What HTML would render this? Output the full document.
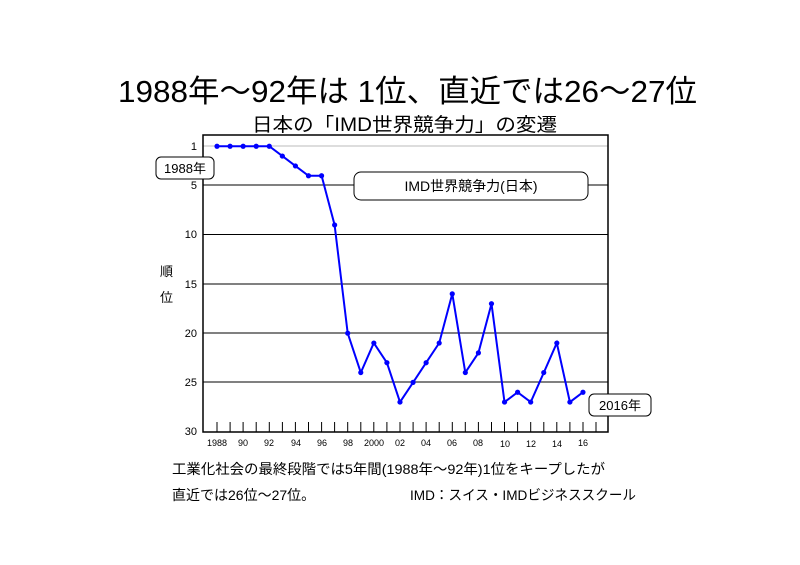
<!DOCTYPE html>
<html><head><meta charset="utf-8"><style>
body{margin:0;background:#fff;}
svg{display:block;font-family:"Liberation Sans","Noto Sans CJK JP",sans-serif;}
</style></head><body>
<svg width="800" height="565" viewBox="0 0 800 565" xmlns="http://www.w3.org/2000/svg">
<text x="118" y="102" font-size="31" textLength="579" lengthAdjust="spacingAndGlyphs" fill="#000">1988年～92年は 1位、直近では26～27位</text>
<text x="252" y="131" font-size="19" textLength="305" lengthAdjust="spacingAndGlyphs" fill="#000">日本の「IMD世界競争力」の変遷</text>
<line x1="203" y1="146" x2="608" y2="146" stroke="#bbb" stroke-width="1"/>
<g stroke="#000" stroke-width="1">
<line x1="203" y1="185" x2="608" y2="185"/>
<line x1="203" y1="234.5" x2="608" y2="234.5"/>
<line x1="203" y1="284" x2="608" y2="284"/>
<line x1="203" y1="333" x2="608" y2="333"/>
<line x1="203" y1="382" x2="608" y2="382"/>
</g>
<rect x="203" y="135" width="405" height="297" fill="none" stroke="#000" stroke-width="1.5"/>
<g font-size="11" text-anchor="end" fill="#000">
<text x="197" y="150">1</text><text x="197" y="189">5</text><text x="197" y="238">10</text>
<text x="197" y="288">15</text><text x="197" y="337">20</text><text x="197" y="386">25</text><text x="197" y="435">30</text>
</g>
<text x="160" y="276" font-size="13">順</text>
<text x="160" y="302" font-size="13">位</text>
<path id="tk" stroke="#000" stroke-width="1" fill="none" d=""/>
<g font-size="9" text-anchor="middle" fill="#000">
<text x="217" y="446">1988</text><text x="243" y="446">90</text><text x="269" y="446">92</text>
<text x="296" y="446">94</text><text x="322" y="446">96</text><text x="348" y="446">98</text>
<text x="374" y="446">2000</text><text x="400" y="446">02</text><text x="426" y="446">04</text>
<text x="452" y="446">06</text><text x="478" y="446">08</text><text x="505" y="447">10</text>
<text x="531" y="447">12</text><text x="557" y="447">14</text><text x="583" y="446">16</text>
</g>
<polyline id="ln" fill="none" stroke="#0000ff" stroke-width="2" points=""/>
<g id="pts" fill="#0000ff"></g>
<rect x="156" y="157" width="58" height="22" rx="5" fill="#fff" stroke="#000"/>
<text x="185" y="173" font-size="13" text-anchor="middle">1988年</text>
<rect x="354" y="172" width="234" height="28" rx="7" fill="#fff" stroke="#000"/>
<text x="471" y="191" font-size="14" text-anchor="middle">IMD世界競争力(日本)</text>
<rect x="589" y="394" width="62" height="22" rx="5" fill="#fff" stroke="#000"/>
<text x="620" y="410" font-size="13" text-anchor="middle">2016年</text>
<text x="172" y="474" font-size="14" textLength="433" lengthAdjust="spacingAndGlyphs">工業化社会の最終段階では5年間(1988年～92年)1位をキープしたが</text>
<text x="172" y="500" font-size="14">直近では26位～27位。</text>
<text x="410" y="500" font-size="14" textLength="226" lengthAdjust="spacingAndGlyphs">IMD：スイス・IMDビジネススクール</text>
</svg>
<script>
var r=[1,1,1,1,1,2,3,4,4,9,20,24,21,23,27,25,23,21,16,24,22,17,27,26,27,24,21,27,26];
var X=function(i){return 217+i*13.07;},Y=function(v){return 136.4+9.84*v;};
var p=[],ns='http://www.w3.org/2000/svg';
for(var i=0;i<r.length;i++){p.push(X(i).toFixed(1)+','+Y(r[i]).toFixed(1));
var c=document.createElementNS(ns,'circle');c.setAttribute('cx',X(i));c.setAttribute('cy',Y(r[i]));c.setAttribute('r',2.6);document.getElementById('pts').appendChild(c);}
document.getElementById('ln').setAttribute('points',p.join(' '));
var d='';for(var j=0;j<30;j++){var x=X(j).toFixed(1);d+='M'+x+' 422V432';}
document.getElementById('tk').setAttribute('d',d);
</script>
</body></html>
